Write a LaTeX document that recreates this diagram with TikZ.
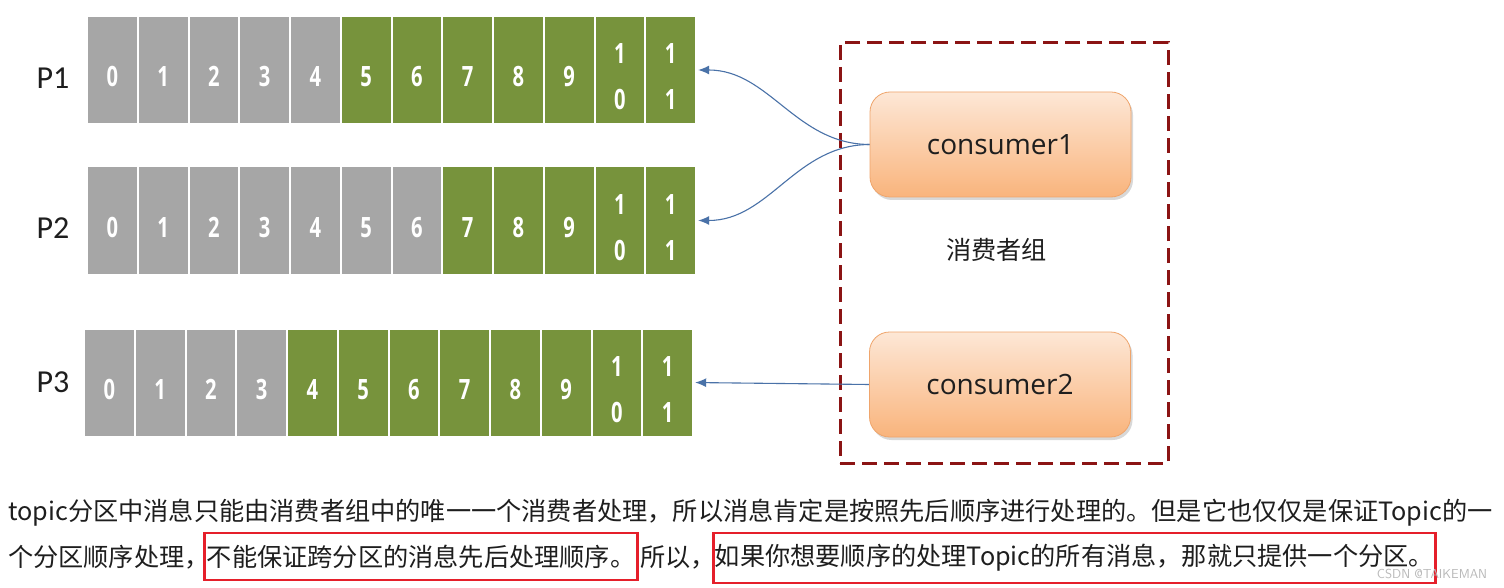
\documentclass[tikz,border=0pt]{standalone}
\usepackage{fontspec}
\setmainfont{Open Sans}
\newfontfamily\cjk{Noto Sans CJK SC}
\newfontfamily\digitfont[FakeStretch=0.72]{Open Sans}
\newfontfamily\labfont{Carlito}
\usetikzlibrary{arrows.meta,shadows}
\definecolor{cgray}{HTML}{A6A6A6}
\definecolor{cgreen}{HTML}{77933C}
\definecolor{cdash}{HTML}{8B1414}
\definecolor{ctop}{HTML}{FDE7D6}
\definecolor{cbot}{HTML}{F9B47C}
\definecolor{cborder}{HTML}{EFA56C}
\definecolor{carrow}{HTML}{4A72A8}
\definecolor{cred}{HTML}{E51F2A}
\definecolor{ctext}{HTML}{1E1E1E}
\newcommand\celldig[2]{\makebox[0pt]{\raisebox{#2}[0pt][0pt]{#1}}}
\tikzset{
  cell/.style={inner sep=0pt, minimum width=48.75pt, minimum height=106pt, text=white,
    font=\digitfont\bfseries\fontsize{28}{28}\selectfont},
  plabel/.style={inner sep=0pt, text=ctext, font=\labfont\fontsize{32}{32}\selectfont},
  consumer/.style={rounded corners=20pt, minimum width=261pt, minimum height=105pt,
    top color=ctop, bottom color=cbot, draw=cborder, line width=0.8pt,
    text=ctext, font=\fontsize{28}{28}\selectfont,
    drop shadow={shadow xshift=2pt, shadow yshift=-3pt, opacity=0.25, fill=black!60}},
  grpbox/.style={draw=cdash, line width=3pt, dash pattern=on 15pt off 7pt,
    minimum width=328pt, minimum height=420pt, inner sep=0pt},
  conn/.style={draw=carrow, line width=1.1pt, -{Latex[length=11pt,width=9pt]}, shorten >=3pt},
  txt/.style={inner sep=0pt, text=ctext, font=\cjk\fontsize{25.2}{26}\selectfont},
  redbox/.style={draw=cred, line width=2.6pt, inner ysep=0pt}
}
\begin{document}
\begin{tikzpicture}[x=1pt,y=-1pt]
\fill[white] (0,0) rectangle (1504,588);
\useasboundingbox (0,0) rectangle (1504,588);
% partitions
\foreach \row/\x/\y/\g in {1/88/70/5, 2/88/220.5/7, 3/85/382.5/4} {
  \foreach \i in {0,...,11} {
    \pgfmathsetmacro\cx{\x+50.75*\i+24.375}
    \ifnum\i<\g\relax\def\col{cgray}\else\def\col{cgreen}\fi
    \ifnum\i<10\relax
      \node[cell, fill=\col] (p\row c\i) at (\cx,\y) {\celldig{\i}{-17pt}};
    \else
      \pgfmathtruncatemacro\d{\i-10}
      \node[cell, fill=\col] (p\row c\i) at (\cx,\y) {\celldig{1}{6pt}\celldig{\d}{-40pt}};
    \fi
  }
}
\node[plabel] (lp1) at (53,78) {P1};
\node[plabel] (lp2) at (53,228.5) {P2};
\node[plabel] (lp3) at (53,382) {P3};
% consumer group
\node[grpbox] (grp) at (1004,253) {};
\draw[conn] (1000.5,144.5) ++(-130.5,0) coordinate (c1w) to[out=180,in=0] (p1c11.east);
\draw[conn] (c1w) to[out=180,in=0] (p2c11.east);
\draw[conn] (1000,384.5) ++(-130.5,0) coordinate (c2w) -- (p3c11.east);
\node[consumer] (c1) at (1000.5,144.5) {consumer1};
\node[consumer] (c2) at (1000,384.5) {consumer2};
\node[txt] (gname) at (996.5,250) {消费者组};
% bottom text
\node[txt, anchor=west] (l1) at (8,513) {topic分区中消息只能由消费者组中的唯一一个消费者处理，所以消息肯定是按照先后顺序进行处理的。但是它也仅仅是保证Topic的一};
\node[txt, anchor=west] (l2a) at (8,557) {个分区顺序处理，};
\node[txt, redbox, anchor=west, inner xsep=2.5pt, minimum height=47pt] (b1) at (203,556.5) {不能保证跨分区的消息先后处理顺序。};
\node[txt, anchor=west] (l2b) at (640,557) {所以，};
\node[txt, redbox, anchor=west, inner xsep=1.5pt, minimum height=50pt] (b2) at (712,558) {如果你想要顺序的处理Topic的所有消息，那就只提供一个分区。};
\node[inner sep=0pt, text=gray!55, font=\sffamily\fontsize{13}{13}\selectfont] (wm) at (1432,574) {CSDN @TAIKEMAN};
\end{tikzpicture}
\end{document}
